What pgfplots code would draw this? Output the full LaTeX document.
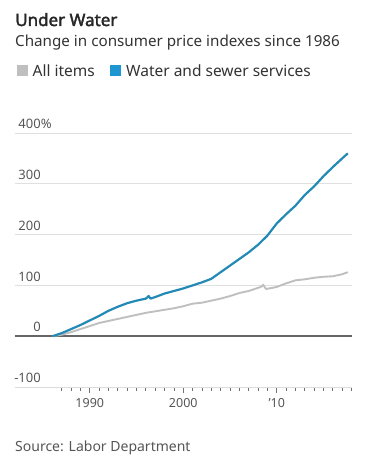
\documentclass[border=0pt]{standalone}
\usepackage{pgfplots}
\pgfplotsset{compat=1.18}
\usepackage{fontspec}
\setmainfont{Noto Sans}
\newfontfamily\titlefont{Noto Sans}[FakeBold=2.2]
\definecolor{wblue}{HTML}{2389B5}
\definecolor{wbluesq}{HTML}{1E96D2}
\definecolor{wgray}{HTML}{BFBFBF}
\definecolor{txt}{HTML}{333333}
\definecolor{ticktxt}{HTML}{555555}
\begin{document}
\begin{tikzpicture}[x=1pt,y=1pt]
\path[use as bounding box] (0,0) rectangle (375,-457);
\node[anchor=base west, inner sep=0, font=\fontsize{17}{20}\titlefont, text=black!85] at (15,-26) {Under Water};
\node[anchor=base west, inner sep=0, font=\fontsize{15.2}{18}\selectfont, text=txt] at (15,-47) {Change in consumer price indexes since 1986};
\fill[wgray] (16.5,-65.5) rectangle (27.5,-76.5);
\node[anchor=base west, inner sep=0, font=\fontsize{15.5}{18}\selectfont, text=txt] at (32.5,-77) {All items};
\fill[wbluesq] (110,-65.5) rectangle (121,-76.5);
\node[anchor=base west, inner sep=0, font=\fontsize{15.5}{18}\selectfont, text=txt] at (126,-77) {Water and sewer services};
\node[anchor=base west, inner sep=0, font=\fontsize{14}{17}\selectfont, text=ticktxt] at (15,-451) {Source: Labor Department};
\begin{axis}[
  at={(15pt,-387pt)}, anchor=south west,
  scale only axis, width=337pt, height=254pt,
  xmin=1982.0, xmax=2018.05, ymin=-100, ymax=400,
  axis x line*=bottom, axis y line*=left,
  x axis line style={draw=black!14, line width=0.8pt},
  y axis line style={draw=none},
  xtick={1990,2000,2010}, xticklabels={1990,2000,’10},
  minor xtick={1987,...,2018},
  xtick align=outside,
  major tick length=6pt, minor tick length=3.5pt,
  xtick style={draw=black!55, line width=0.8pt},
  xticklabel style={font=\fontsize{12.5}{15}\selectfont, text=ticktxt, anchor=base, yshift=-14pt},
  ytick={-100,0,100,200,300,400},
  yticklabels={-100,0,100,200,300,400\rlap{\%}},
  ytick style={draw=none},
  yticklabel style={font=\fontsize{13}{15}\selectfont, text=ticktxt, anchor=south east, inner sep=0pt, xshift=26pt, yshift=4pt},
  ymajorgrids, grid style={draw=black!12, line width=0.8pt},
  extra y ticks={0}, extra y tick labels={},
  extra y tick style={grid style={draw=black!60, line width=1.8pt}},
  clip=false,
]
\addplot[wgray, line width=1.9pt, line join=round] coordinates {
(1986.0,0) (1987,3) (1988,8) (1989,14) (1990,20) (1991,26) (1992,30) (1993,34)
(1994,38) (1995,42) (1996,46) (1997,49) (1998,52) (1999,55) (2000,59) (2001,64)
(2002,66) (2003,70) (2004,74) (2005,79) (2006,85) (2007,89) (2008.3,97) (2008.55,101)
(2008.85,93) (2009.5,95) (2010,97) (2011,104) (2012,110) (2013,112) (2014,115)
(2015,117) (2016,118) (2017,122) (2017.6,126)
};
\addplot[wblue, line width=2.2pt, line join=round] coordinates {
(1986.0,0) (1987,6) (1988,14) (1989,22) (1990,31) (1991,40) (1992,50) (1993,58)
(1994,65) (1995,70) (1996.0,74) (1996.3,79) (1996.5,74) (1997,77) (1998,84)
(1999,89) (2000,94) (2001,100) (2002,106) (2003,113) (2004,126)
(2005,139) (2006,152) (2007,165) (2008,180) (2009,198) (2010,222) (2011,240)
(2012,257) (2013,278) (2014,295) (2015,315) (2016,333) (2017,350) (2017.6,360)
};
\end{axis}
\end{tikzpicture}
\end{document}
